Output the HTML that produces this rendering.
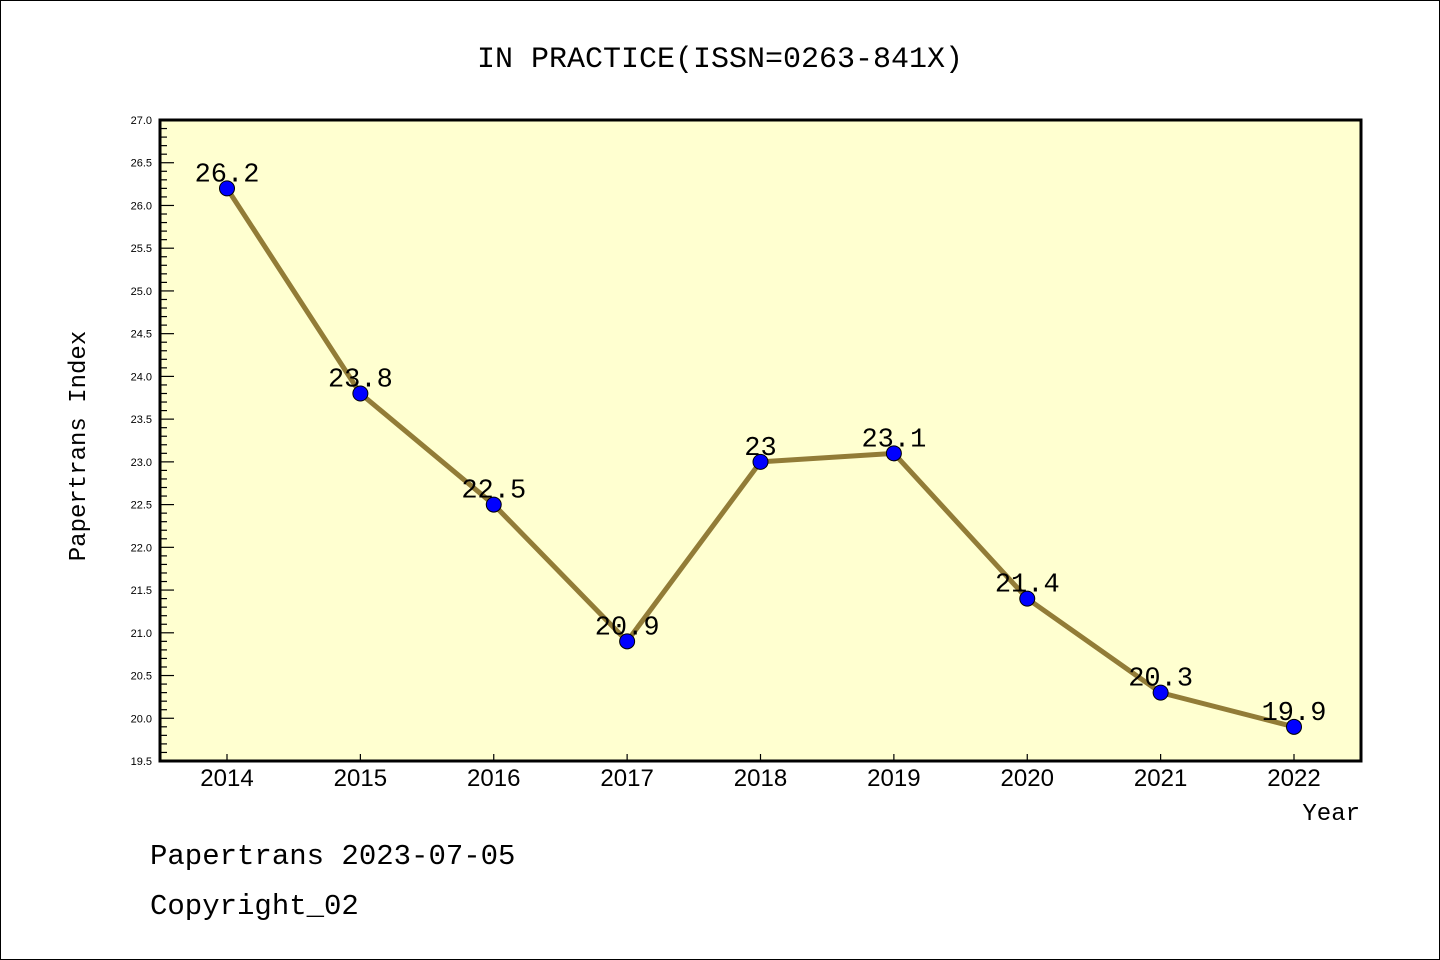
<!DOCTYPE html>
<html><head><meta charset="utf-8"><style>
html,body{margin:0;padding:0;background:#fff;}
svg{display:block;font-family:"Liberation Sans","DejaVu Sans",sans-serif;}
</style></head><body>
<svg id="chart" width="1440" height="960" viewBox="0 0 1440 960">
<rect x="0.5" y="0.5" width="1439" height="959" fill="#fff" stroke="#000"/>
<text x="720" y="67" font-size="30" text-anchor="middle" font-family="Liberation Mono, monospace">IN PRACTICE(ISSN=0263-841X)</text>
<rect x="160" y="120" width="1201" height="641" fill="#ffffd0"/>
<g id="axes"></g>
<g id="marks"></g>
<rect x="160" y="120" width="1201" height="641" fill="none" stroke="#000" stroke-width="3"/>
<text x="85" y="446" font-size="24" text-anchor="middle" transform="rotate(-90 85 446)" font-family="Liberation Mono, monospace">Papertrans Index</text>
<text x="1360" y="820" font-size="24" text-anchor="end" font-family="Liberation Mono, monospace">Year</text>
<text x="150" y="864" font-size="29" font-family="Liberation Mono, monospace">Papertrans 2023-07-05</text>
<text x="150" y="914" font-size="29" font-family="Liberation Mono, monospace">Copyright_02</text>
</svg>
<script>
const years = ["2014","2015","2016","2017","2018","2019","2020","2021","2022"];
const values = [26.2, 23.8, 22.5, 20.9, 23.0, 23.1, 21.4, 20.3, 19.9];
const labels = ["26.2","23.8","22.5","20.9","23","23.1","21.4","20.3","19.9"];
const yTicks = ["19.5","20.0","20.5","21.0","21.5","22.0","22.5","23.0","23.5","24.0","24.5","25.0","25.5","26.0","26.5","27.0"];
const yMin = 19.5, yMax = 27.0;
const NS = "http://www.w3.org/2000/svg";
function xPos(i){ return 227 + i*(1294-227)/(years.length-1); }
function yPos(v){ return 761 - (v-yMin)/(yMax-yMin)*641; }
function mk(tag, attrs, parent){ const e=document.createElementNS(NS,tag); for(const k in attrs) e.setAttribute(k,attrs[k]); parent.appendChild(e); return e; }
const axes=document.getElementById('axes'), marks=document.getElementById('marks');
// minor ticks every 0.1
for(let k=0;k<=75;k++){
  const v=yMin+k*0.1, y=yPos(v), major=(k%5===0);
  const t=mk('line',{x1:160,x2:major?174:167,y1:y,y2:y,stroke:'#000','stroke-width':1.2},axes);
  
  
}
yTicks.forEach(s=>{
  const t=mk('text',{x:152,y:yPos(parseFloat(s))+4,'font-size':11,'text-anchor':'end'},axes);
  t.textContent=s;
  
  
});
years.forEach((yr,i)=>{
  const tk=mk('line',{x1:xPos(i),x2:xPos(i),y1:761,y2:754,stroke:'#000','stroke-width':1.2},axes);
  
  
  const t=mk('text',{x:xPos(i),y:786,'font-size':24,'text-anchor':'middle'},axes);
  t.textContent=yr;
  
  
});
const pts=values.map((v,i)=>xPos(i)+','+yPos(v)).join(' ');
const line=mk('polyline',{points:pts,fill:'none',stroke:'#927c37','stroke-width':5,'stroke-linejoin':'round'},marks);


values.forEach((v,i)=>{
  const c=mk('circle',{cx:xPos(i),cy:yPos(v),r:7.5,fill:'#0000ff',stroke:'#000','stroke-width':1},marks);
  
  
  const t=mk('text',{x:xPos(i),y:yPos(v)-7,'font-size':27,'text-anchor':'middle','font-family':'Liberation Mono, monospace'},marks);
  t.textContent=labels[i];
  
  
});
</script>
</body></html>
